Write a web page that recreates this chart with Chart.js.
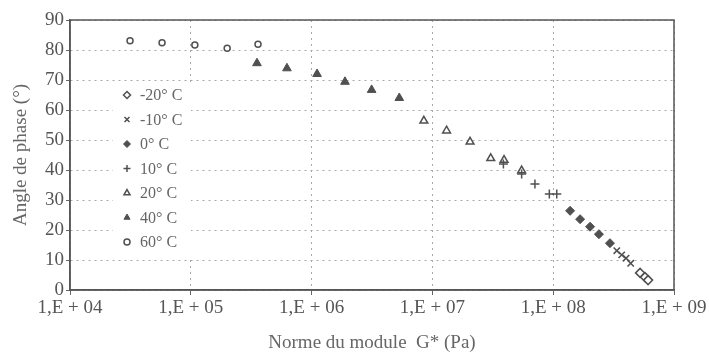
<!DOCTYPE html>
<html lang="fr">
<head>
<meta charset="UTF-8">
<title>Angle de phase - Norme du module</title>
<script src="https://cdn.jsdelivr.net/npm/chart.js"></script>
<style>
  html, body { margin: 0; padding: 0; background: #fff; }
  #wrap { width: 709px; height: 354px; }
</style>
</head>
<body>
<div id="wrap"><canvas id="chart" width="709" height="354"></canvas></div>
<script>
// modules (Pa) et angles de phase (°)
const labels = ['-20° C', '-10° C', '0° C', '10° C', '20° C', '40° C', '60° C'];

const gM20 = [5.24e8, 5.75e8, 6.1e8];
const aM20 = [5.7, 4.3, 3.3];

const gM10 = [3.36e8, 3.69e8, 4.01e8, 4.38e8];
const aM10 = [13.1, 11.7, 10.6, 8.9];

const g0 = [1.38e8, 1.67e8, 2.02e8, 2.39e8, 2.95e8];
const a0 = [26.4, 23.6, 21.1, 18.6, 15.6];

const g10 = [3.87e7, 5.48e7, 7.06e7, 9.29e7, 1.07e8];
const a10 = [42.0, 38.7, 35.3, 32.0, 32.0];

const g20 = [8.5e6, 1.31e7, 2.05e7, 3.04e7, 3.92e7, 5.48e7];
const a20 = [56.4, 53.1, 49.4, 43.9, 43.3, 39.8];

const g40 = [3.53e5, 6.25e5, 1.11e6, 1.89e6, 3.14e6, 5.32e6];
const a40 = [75.6, 73.9, 72.0, 69.4, 66.7, 64.0];

const g60 = [3.14e4, 5.78e4, 1.08e5, 2.0e5, 3.6e5];
const a60 = [83.1, 82.4, 81.7, 80.6, 81.9];

const xTicks = [1e4, 1e5, 1e6, 1e7, 1e8, 1e9];

const mark = '#505050';
const serif = "'Liberation Serif', 'DejaVu Serif', serif";

function pts(gs, as) {
  return gs.map((g, i) => ({ x: g, y: as[i] }));
}

const datasets = [
  { label: labels[0], data: pts(gM20, aM20), pointStyle: 'rectRot', pointRadius: 4.5, backgroundColor: '#fff', borderColor: mark, pointBorderWidth: 1.5 },
  { label: labels[1], data: pts(gM10, aM10), pointStyle: 'crossRot', pointRadius: 4.5, backgroundColor: mark, borderColor: mark, pointBorderWidth: 1.5 },
  { label: labels[2], data: pts(g0, a0), pointStyle: 'rectRot', pointRadius: 4.5, backgroundColor: mark, borderColor: mark, pointBorderWidth: 1 },
  { label: labels[3], data: pts(g10, a10), pointStyle: 'cross', pointRadius: 4.5, backgroundColor: mark, borderColor: mark, pointBorderWidth: 1.5 },
  { label: labels[4], data: pts(g20, a20), pointStyle: 'triangle', pointRadius: 4.5, backgroundColor: '#fff', borderColor: mark, pointBorderWidth: 1.5 },
  { label: labels[5], data: pts(g40, a40), pointStyle: 'triangle', pointRadius: 5, backgroundColor: mark, borderColor: mark, pointBorderWidth: 1 },
  { label: labels[6], data: pts(g60, a60), pointStyle: 'circle', pointRadius: 3, backgroundColor: '#fff', borderColor: mark, pointBorderWidth: 1.5 }
];
datasets.forEach(d => { d.showLine = false; d.pointHoverRadius = d.pointRadius; });

// légende dans la zone du graphique, sur fond blanc
const legendBox = {
  id: 'legendBox',
  beforeDatasetsDraw(chart) {
    const ctx = chart.ctx;
    ctx.save();
    ctx.fillStyle = '#fff';
    ctx.fillRect(113, 85, 78, 172);
    ctx.font = '16px ' + serif;
    ctx.textBaseline = 'middle';
    chart.data.datasets.forEach((d, i) => {
      const y = 95 + i * 24.5;
      ctx.fillStyle = d.backgroundColor;
      ctx.strokeStyle = d.borderColor;
      ctx.lineWidth = d.pointBorderWidth;
      Chart.helpers.drawPoint(ctx, {
        pointStyle: d.pointStyle,
        radius: Math.min(d.pointRadius, 3.5),
        borderWidth: d.pointBorderWidth,
        rotation: 0
      }, 127, y);
      ctx.fillStyle = '#666';
      ctx.fillText(d.label, 140, y + 1);
    });
    ctx.restore();
  },
  afterDraw(chart) {
    // cadre autour de la zone de tracé
    const ctx = chart.ctx;
    const a = chart.chartArea;
    ctx.save();
    ctx.strokeStyle = '#555';
    ctx.lineWidth = 1.5;
    ctx.strokeRect(a.left, a.top, a.right - a.left, a.bottom - a.top);
    ctx.restore();
  }
};

new Chart(document.getElementById('chart'), {
  type: 'scatter',
  data: { datasets: datasets },
  options: {
    responsive: false,
    animation: false,
    events: [],
    layout: { padding: { top: 20, right: 35, left: 0, bottom: 0 } },
    plugins: { legend: { display: false }, tooltip: { enabled: false } },
    scales: {
      x: {
        type: 'logarithmic',
        min: 1e4,
        max: 1e9,
        afterBuildTicks: s => { s.ticks = xTicks.map(v => ({ value: v })); },
        afterFit: s => { s.height = 64; },
        ticks: {
          autoSkip: false,
          maxRotation: 0,
          padding: 2,
          color: '#555',
          font: { family: serif, size: 19 },
          callback: v => '1,E + 0' + Math.round(Math.log10(v))
        },
        grid: { color: '#a8a8a8', lineWidth: 1, tickLength: 5, tickColor: '#666', tickBorderDash: [] },
        border: { display: true, color: '#555', width: 1.5, dash: [2, 4] },
        title: {
          display: true,
          text: 'Norme du module  G* (Pa)',
          color: '#666',
          font: { family: serif, size: 19 },
          padding: { top: 0, bottom: 0 }
        }
      },
      y: {
        min: 0,
        max: 90,
        afterFit: s => { s.width = 70; },
        ticks: {
          stepSize: 10,
          padding: 2,
          color: '#555',
          font: { family: serif, size: 19 }
        },
        grid: { color: '#a8a8a8', lineWidth: 1, tickLength: 4, tickColor: '#666', tickBorderDash: [] },
        border: { display: true, color: '#555', width: 1.5, dash: [2, 4] },
        title: {
          display: true,
          text: 'Angle de phase (°)',
          color: '#666',
          font: { family: serif, size: 19 },
          padding: { top: 10, bottom: 0 }
        }
      }
    }
  },
  plugins: [legendBox]
});
</script>
</body>
</html>
